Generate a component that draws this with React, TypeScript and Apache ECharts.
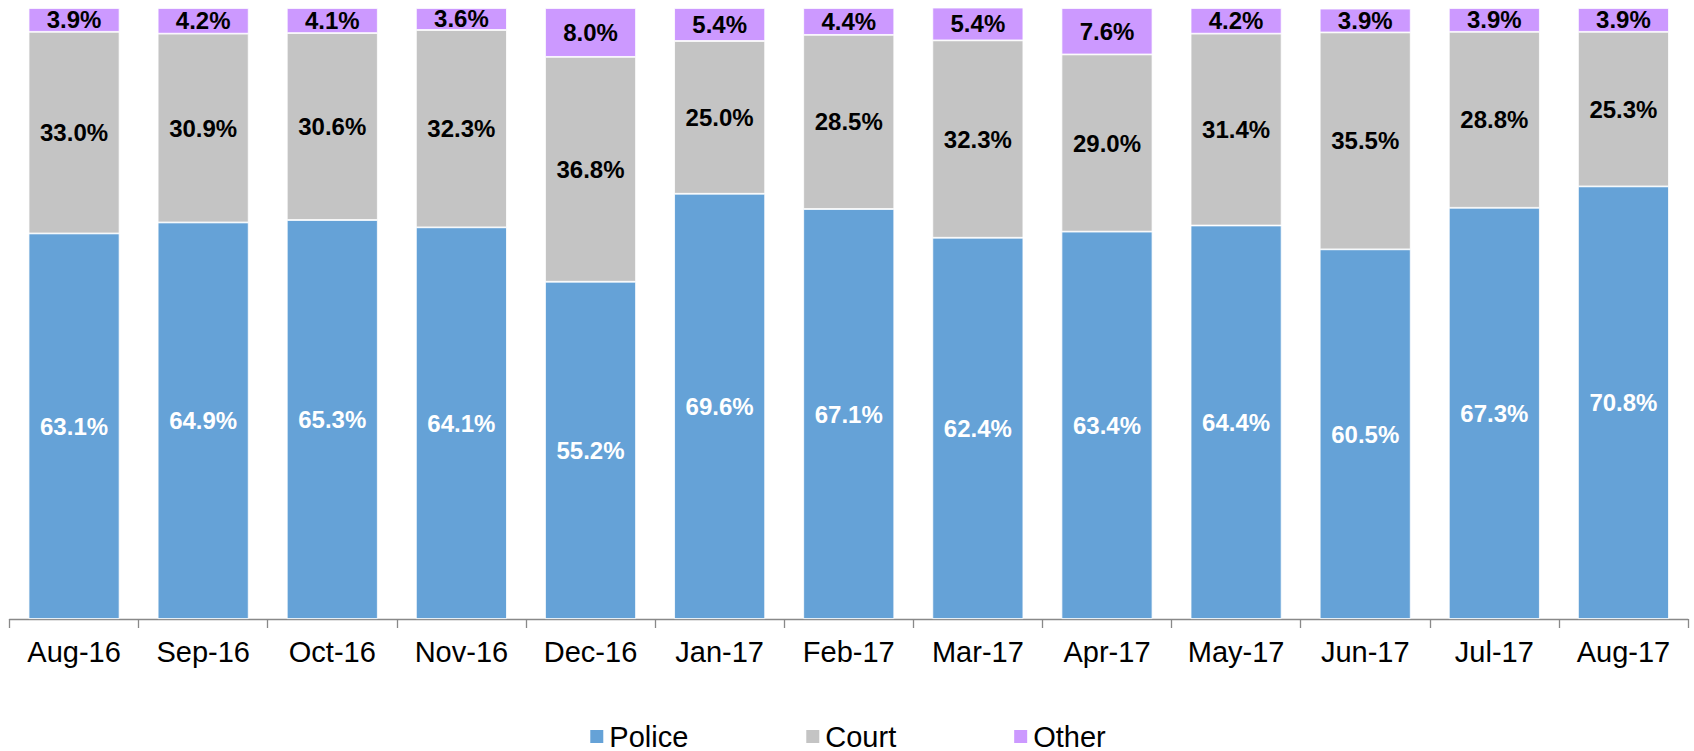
import React, { useEffect, useRef } from "react";
import * as echarts from "echarts";

const categories = ["Aug-16", "Sep-16", "Oct-16", "Nov-16", "Dec-16", "Jan-17", "Feb-17", "Mar-17", "Apr-17", "May-17", "Jun-17", "Jul-17", "Aug-17"];
const police = [63.1, 64.9, 65.3, 64.1, 55.2, 69.6, 67.1, 62.4, 63.4, 64.4, 60.5, 67.3, 70.8];
const court = [33.0, 30.9, 30.6, 32.3, 36.8, 25.0, 28.5, 32.3, 29.0, 31.4, 35.5, 28.8, 25.3];
const other = [3.9, 4.2, 4.1, 3.6, 8.0, 5.4, 4.4, 5.4, 7.6, 4.2, 3.9, 3.9, 3.9];

const FONT = "'Liberation Sans', Arial, sans-serif";

export default function App() {
  const ref = useRef<HTMLDivElement>(null);
  useEffect(() => {
    document.body.style.margin = "0";
    const chart = echarts.init(ref.current!, undefined, { renderer: "svg" });
    const label = (color: string) => ({
      show: true,
      position: "inside",
      color,
      fontFamily: FONT,
      fontWeight: "bold",
      fontSize: 24,
      formatter: (p: any) => Number(p.value).toFixed(1) + "%",
    });
    const mk = (name: string, data: number[], color: string, lblColor: string) => ({
      name,
      type: "bar",
      stack: "total",
      data,
      barWidth: 91,
      itemStyle: { color, borderColor: "#ffffff", borderWidth: 0.8 },
      label: label(lblColor),
    });
    chart.setOption({
      animation: false,
      textStyle: { fontFamily: FONT },
      grid: { left: 9.5, right: 6, top: 8, bottom: 132, containLabel: false },
      legend: {
        top: 722,
        left: "center",
        padding: 0,
        itemWidth: 15,
        itemHeight: 15,
        itemGap: 116,
        icon: "rect",
        textStyle: { fontFamily: FONT, fontSize: 29, lineHeight: 29, color: "#000" },
        data: ["Police", "Court", "Other"],
      },
      xAxis: {
        type: "category",
        data: categories,
        axisLine: { lineStyle: { color: "#898989", width: 1.3 } },
        axisTick: { show: true, length: 9, lineStyle: { color: "#898989", width: 1.3 } },
        axisLabel: { color: "#000", fontSize: 29, fontFamily: FONT, margin: 18 },
      },
      yAxis: { type: "value", min: 0, max: 100, show: false },
      series: [
        mk("Police", police, "#65a2d7", "#ffffff"),
        mk("Court", court, "#c4c4c4", "#000000"),
        mk("Other", other, "#cc99ff", "#000000"),
      ],
    });
    return () => chart.dispose();
  }, []);
  return <div ref={ref} style={{ width: 1694, height: 751 }} />;
}
